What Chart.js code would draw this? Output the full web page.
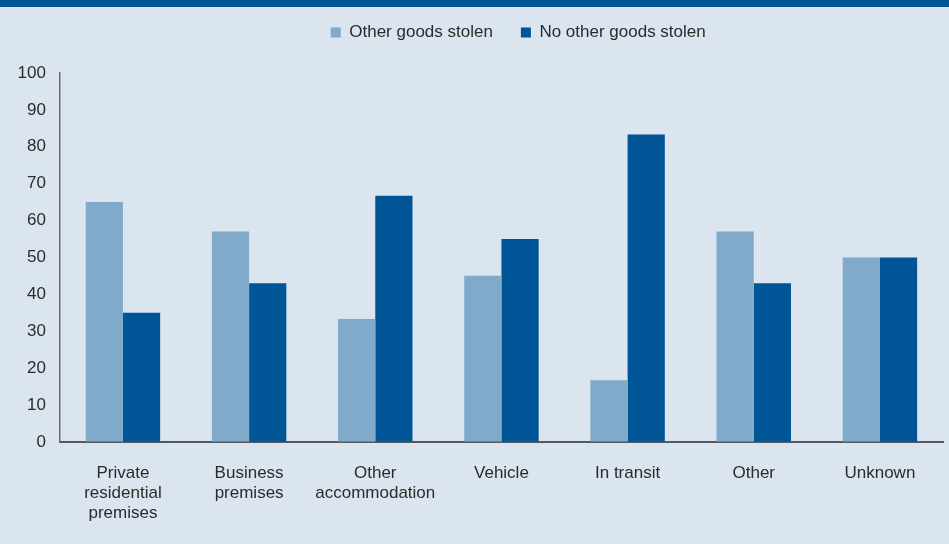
<!DOCTYPE html>
<html>
<head>
<meta charset="utf-8">
<script src="https://cdn.jsdelivr.net/npm/chart.js@4.4.1/dist/chart.umd.min.js"></script>
<style>
  html, body { margin: 0; padding: 0; background: #dae5ef; }
  #wrap { position: relative; width: 949px; height: 544px; background: #dae5ef; overflow: hidden; }
  #band { position: absolute; left: 0; top: 0; width: 949px; height: 7px; background: #005596; }
  #grafico { position: absolute; left: 0; top: 7px; }
</style>
</head>
<body>
<div id="wrap">
  <div id="band"></div>
  <canvas id="grafico" width="949" height="537"></canvas>
</div>
<script>
'use strict';

// Luogo del furto – percentuali per categoria
const categorie = [
  ['Private', 'residential', 'premises'],
  ['Business', 'premises'],
  ['Other', 'accommodation'],
  'Vehicle',
  'In transit',
  'Other',
  'Unknown'
];
const altriBeni = [65, 57, 33.3, 45, 16.7, 57, 50];
const nessunAltro = [35, 43, 66.7, 55, 83.3, 43, 50];
const yMax = 100;
const yStep = 10;

const FONT = "'Liberation Sans', Arial, sans-serif";

// legenda: più spazio sotto, spostata a destra e un po' in alto
const legendTweak = {
  id: 'legendTweak',
  beforeInit(chart) {
    const lg = chart.legend;
    if (!lg) return;
    const fitOrig = lg.fit;
    lg.fit = function () {
      fitOrig.call(this);
      this.height += 11;
    };
  },
  afterLayout(chart) {
    const lg = chart.legend;
    if (!lg) return;
    lg.left += 45;
    lg.right += 45;
    lg.top -= 11;
    lg.bottom -= 11;
  }
};

const ctx = document.getElementById('grafico').getContext('2d');

new Chart(ctx, {
  type: 'bar',
  data: {
    labels: categorie,
    datasets: [{
      label: 'Other goods stolen',
      data: altriBeni,
      backgroundColor: '#7faaca',
      barPercentage: 1,
      categoryPercentage: 0.59
    }, {
      label: 'No other goods stolen',
      data: nessunAltro,
      backgroundColor: '#005596',
      barPercentage: 1,
      categoryPercentage: 0.59
    }]
  },
  options: {
    responsive: false,
    animation: false,
    layout: { padding: { left: 3.5, right: 6, top: 0, bottom: 0 } },
    plugins: {
      tooltip: { enabled: false },
      legend: {
        position: 'top',
        labels: {
          color: '#2b2b2b',
          font: { family: FONT, size: 17 },
          boxWidth: 10,
          boxHeight: 10,
          padding: 28
        }
      }
    },
    scales: {
      x: {
        grid: { display: false, drawTicks: false },
        border: { color: '#55595e', width: 2 },
        ticks: {
          color: '#2b2b2b',
          font: { family: FONT, size: 17, lineHeight: 1.18 },
          padding: 21,
          maxRotation: 0
        }
      },
      y: {
        min: 0,
        max: yMax,
        grid: { display: false, drawTicks: false },
        border: { color: '#6b6f75', width: 1.5 },
        ticks: {
          stepSize: yStep,
          color: '#2b2b2b',
          font: { family: FONT, size: 17 },
          padding: 14
        }
      }
    }
  },
  plugins: [legendTweak]
});
</script>
</body>
</html>
